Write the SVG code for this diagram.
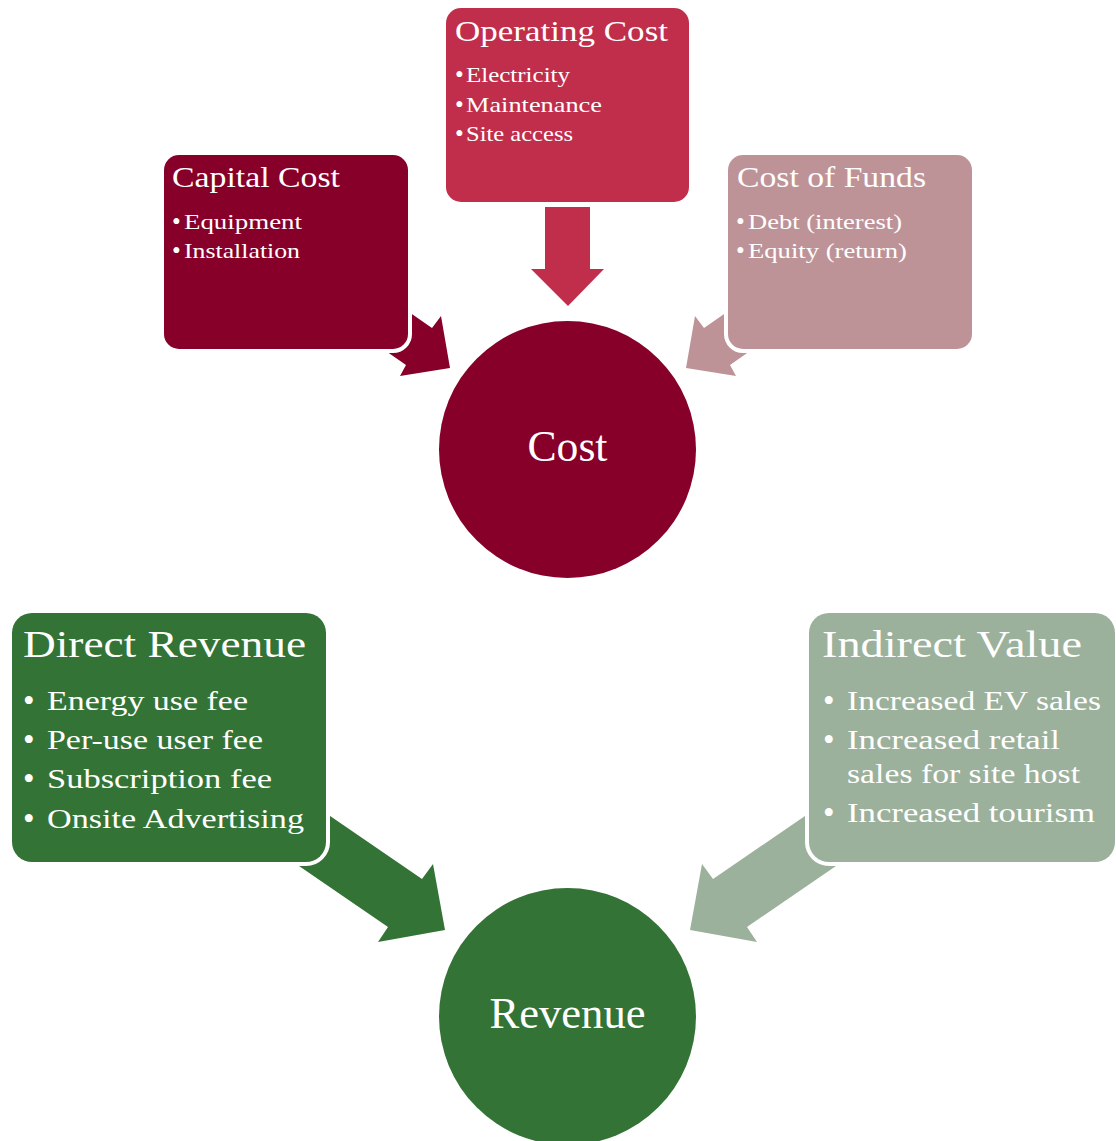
<svg xmlns="http://www.w3.org/2000/svg" width="1116" height="1141" viewBox="0 0 1116 1141">
<style>
text{font-family:"Liberation Serif","Times New Roman",serif;fill:#fff}
.box{stroke:#fff;stroke-width:8;paint-order:stroke}
.t1{font-size:29px}
.b1{font-size:22px}
.d1{font-size:25px}
.t2{font-size:38px}
.b2{font-size:28px}
.d2{font-size:33px}
.ct{font-size:44px;text-anchor:middle}
.cap{fill:#87002A}
.ope{fill:#C12E4B}
.fun{fill:#BE9398}
.dir{fill:#347336}
.ind{fill:#9CB19C}
</style>
<rect width="1116" height="1141" fill="#fff"/>
<g id="connectors">
<polygon class="cap" points="350,271 432,328 441,316 450,368 400,376 406,365 324,308"/>
<polygon class="ope" points="545,207 590,207 590,269 604,269 568,306 531,269 545,269"/>
<polygon class="fun" points="786,271 704,328 695,316 686,368 736,376 730,365 812,308"/>
<polygon class="dir" points="298,794 422,879 433,864 445,930 378,942 388,927 264,842"/>
<polygon class="ind" points="837,794 713,879 702,864 690,930 757,942 747,927 871,842"/>
</g>
<g id="capital-cost">
<rect class="box cap" x="164" y="155" width="244" height="194" rx="15"/>
<text class="t1" x="172" y="187" textLength="168" lengthAdjust="spacingAndGlyphs">Capital Cost</text>
<text class="d1" x="172" y="230">•</text>
<text class="b1" x="184" y="229" textLength="118" lengthAdjust="spacingAndGlyphs">Equipment</text>
<text class="d1" x="172" y="259">•</text>
<text class="b1" x="184" y="258" textLength="116" lengthAdjust="spacingAndGlyphs">Installation</text>
</g>
<g id="operating-cost">
<rect class="box ope" x="446" y="8" width="243" height="194" rx="15"/>
<text class="t1" x="455" y="41" textLength="213" lengthAdjust="spacingAndGlyphs">Operating Cost</text>
<text class="d1" x="455" y="83">•</text>
<text class="b1" x="466" y="82" textLength="104" lengthAdjust="spacingAndGlyphs">Electricity</text>
<text class="d1" x="455" y="113">•</text>
<text class="b1" x="466" y="112" textLength="136" lengthAdjust="spacingAndGlyphs">Maintenance</text>
<text class="d1" x="455" y="142">•</text>
<text class="b1" x="466" y="141" textLength="107" lengthAdjust="spacingAndGlyphs">Site access</text>
</g>
<g id="cost-of-funds">
<rect class="box fun" x="728" y="155" width="244" height="194" rx="15"/>
<text class="t1" x="737" y="187" textLength="189" lengthAdjust="spacingAndGlyphs">Cost of Funds</text>
<text class="d1" x="736" y="230">•</text>
<text class="b1" x="748" y="229" textLength="154" lengthAdjust="spacingAndGlyphs">Debt (interest)</text>
<text class="d1" x="736" y="259">•</text>
<text class="b1" x="748" y="258" textLength="159" lengthAdjust="spacingAndGlyphs">Equity (return)</text>
</g>
<g id="cost">
<circle class="cap" cx="567.5" cy="449.5" r="128.5"/>
<text class="ct" x="567.5" y="461" textLength="80" lengthAdjust="spacingAndGlyphs">Cost</text>
</g>
<g id="direct-revenue">
<rect class="box dir" x="12" y="613" width="314" height="249" rx="20"/>
<text class="t2" x="23" y="657" textLength="283" lengthAdjust="spacingAndGlyphs">Direct Revenue</text>
<text class="d2" x="23" y="712">•</text>
<text class="b2" x="47" y="710" textLength="201" lengthAdjust="spacingAndGlyphs">Energy use fee</text>
<text class="d2" x="23" y="751">•</text>
<text class="b2" x="47" y="749" textLength="216" lengthAdjust="spacingAndGlyphs">Per-use user fee</text>
<text class="d2" x="23" y="790">•</text>
<text class="b2" x="47" y="788" textLength="225" lengthAdjust="spacingAndGlyphs">Subscription fee</text>
<text class="d2" x="23" y="830">•</text>
<text class="b2" x="47" y="828" textLength="257" lengthAdjust="spacingAndGlyphs">Onsite Advertising</text>
</g>
<g id="indirect-value">
<rect class="box ind" x="809" y="613" width="306" height="249" rx="20"/>
<text class="t2" x="822" y="657" textLength="260" lengthAdjust="spacingAndGlyphs">Indirect Value</text>
<text class="d2" x="823" y="712">•</text>
<text class="b2" x="847" y="710" textLength="254" lengthAdjust="spacingAndGlyphs">Increased EV sales</text>
<text class="d2" x="823" y="751">•</text>
<text class="b2" x="847" y="749" textLength="213" lengthAdjust="spacingAndGlyphs">Increased retail</text>
<text class="b2" x="847" y="783" textLength="233" lengthAdjust="spacingAndGlyphs">sales for site host</text>
<text class="d2" x="823" y="824">•</text>
<text class="b2" x="847" y="822" textLength="248" lengthAdjust="spacingAndGlyphs">Increased tourism</text>
</g>
<g id="revenue">
<circle class="dir" cx="567.5" cy="1016.5" r="128.5"/>
<text class="ct" x="567.5" y="1028" textLength="156" lengthAdjust="spacingAndGlyphs">Revenue</text>
</g>
</svg>
